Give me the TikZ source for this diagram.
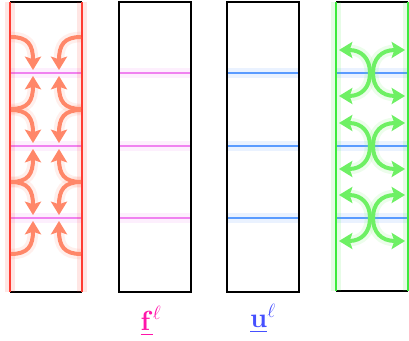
\documentclass[tikz,border=0pt]{standalone}
\usepackage{amsmath,amssymb}
\usepackage{xcolor}
\usetikzlibrary{arrows.meta, positioning}
\definecolor{WallRed}{RGB}{255,60,50}
\definecolor{WallGreen}{RGB}{60,235,60}
\definecolor{FluxPink}{RGB}{240,130,240}
\definecolor{VelBlue}{RGB}{90,155,255}
\definecolor{Salmon}{RGB}{255,135,105}
\definecolor{LightGreen}{RGB}{110,240,100}
\definecolor{LabelPink}{RGB}{255,20,170}
\definecolor{LabelBlue}{RGB}{70,80,255}

\begin{document}
\begin{tikzpicture}[
  x=0.75pt, y=-0.75pt,
  glow/.style={preaction={draw, #1, opacity=0.13, line width=8pt}},
  rim/.style={black, line width=1.8pt},
  wall/.style={#1, line width=2pt, glow=#1},
  gridline/.style={#1, line width=2pt, glow=#1},
  flux/.style={-{Stealth[length=10pt, width=12pt, inset=2pt]}, Salmon,
               line width=3pt, glow=Salmon},
  spread/.style={{Stealth[length=10pt, width=12pt, inset=2pt]}-{Stealth[length=10pt, width=12pt, inset=2pt]},
                 LightGreen, line width=3pt, glow=LightGreen},
]
\useasboundingbox (0,0) rectangle (409,341);

% first column: flux pushed onto the faces
\foreach \y in {73,146,218}
  \draw[gridline=FluxPink] (10,\y) -- (82,\y);
\draw[rim] (10,2) -- (82,2);
\draw[rim] (10,292) -- (82,292);
\draw[wall=WallRed] (10,2) -- (10,292);
\draw[wall=WallRed] (82,2) -- (82,292);
\foreach \y in {73,146,218} {
  \draw[flux] (11,{\y-36}) .. controls (28,{\y-36}) and (33,{\y-28}) .. (33,{\y-3});
  \draw[flux] (11,{\y+36}) .. controls (28,{\y+36}) and (33,{\y+28}) .. (33,{\y+3});
  \draw[flux] (81,{\y-36}) .. controls (64,{\y-36}) and (59,{\y-28}) .. (59,{\y-3});
  \draw[flux] (81,{\y+36}) .. controls (64,{\y+36}) and (59,{\y+28}) .. (59,{\y+3});
}

% f column
\foreach \y in {73,146,218}
  \draw[gridline=FluxPink] (119,\y) -- (191,\y);
\draw[rim] (119,2) rectangle (191,292);
\node[LabelPink, font=\huge] (flabel) at (151,321) {$\underline{\mathbf{f}}^{\ell}$};

% u column
\foreach \y in {73,146,218}
  \draw[gridline=VelBlue] (227,\y) -- (299,\y);
\draw[rim] (227,2) rectangle (299,292);
\node[LabelBlue, font=\huge] (ulabel) at (263,319) {$\underline{\mathbf{u}}^{\ell}$};

% last column: face values spread back
\foreach \y in {73,146,218}
  \draw[gridline=VelBlue] (336,\y) -- (409,\y);
\draw[rim] (336,2) -- (408,2);
\draw[rim] (336,291) -- (408,291);
\draw[wall=WallGreen] (336,2) -- (336,291);
\draw[wall=WallGreen] (408,2) -- (408,291);
\foreach \y in {73,146,218} {
  \draw[spread] (339,{\y-23}) .. controls (362,{\y-23}) and (370,{\y-14}) .. (370,\y)
                .. controls (370,{\y+14}) and (362,{\y+23}) .. (339,{\y+23});
  \draw[spread] (405,{\y-23}) .. controls (381,{\y-23}) and (373,{\y-14}) .. (373,\y)
                .. controls (373,{\y+14}) and (381,{\y+23}) .. (405,{\y+23});
}

\end{tikzpicture}
\end{document}
